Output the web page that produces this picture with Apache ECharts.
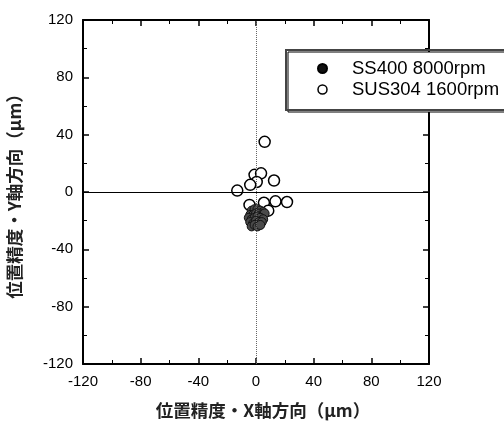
<!DOCTYPE html>
<html>
<head>
<meta charset="utf-8">
<script src="https://cdn.jsdelivr.net/npm/echarts@6/dist/echarts.min.js"></script>
<style>
  html, body { margin: 0; padding: 0; background: #fff; }
  #chart { width: 504px; height: 422px; }
</style>
</head>
<body>
<div id="chart"></div>
<script>
  // 位置精度データ (μm) [X, Y]
  const ss400 = [
    [-3, -13], [-1, -12], [1, -12], [3, -13], [5, -14],
    [-4, -16], [-2, -16], [0, -15], [2, -15], [4, -16], [6, -15],
    [-5, -18], [-3, -19], [-1, -18], [1, -17], [3, -18], [5, -19],
    [-4, -21], [-2, -22], [0, -20], [2, -21], [4, -21],
    [-3, -24], [-1, -23], [1, -24], [3, -23]
  ]
  const sus304 = [
    [6, 35], [-1, 12], [3.5, 13], [0.5, 7], [-4, 5], [12.5, 8],
    [-13, 1], [-4.5, -9], [5.5, -7.5], [13.5, -6.5], [21.5, -7], [8.5, -13]
  ]
  const axisTicks = [-120, -80, -40, 0, 40, 80, 120]
  const seriesNames = ['SS400 8000rpm', 'SUS304 1600rpm']

  const labelFont = 'Liberation Sans, Arial, sans-serif'
  const cjkFont = 'Noto Sans CJK JP, sans-serif'

  function axis(pos, name, showLabel) {
    return {
      type: 'value',
      position: pos,
      min: axisTicks[0],
      max: axisTicks[axisTicks.length - 1],
      interval: 40,
      name: name,
      nameLocation: 'middle',
      nameGap: pos === 'bottom' ? 38 : 60,
      nameTextStyle: {
        fontFamily: cjkFont, fontSize: 17.5, fontWeight: 'bold', color: '#222',
        padding: pos === 'bottom' ? [0, 0, 0, 14] : 0
      },
      axisLine: { show: true, onZero: false, lineStyle: { color: '#000', width: 2 } },
      axisTick: { show: true, inside: true, length: 6, lineStyle: { color: '#000', width: 1.5 } },
      minorTick: { show: true, splitNumber: 2, length: 4, lineStyle: { color: '#000', width: 1 } },
      axisLabel: {
        show: showLabel, margin: 10, fontSize: 15, color: '#000', fontFamily: labelFont
      },
      splitLine: { show: false }
    }
  }

  const chart = echarts.init(document.getElementById('chart'))
  chart.setOption({
    animation: false,
    backgroundColor: '#fff',
    grid: { left: 83, right: 75, top: 20, bottom: 58, outerBoundsMode: 'none' },
    xAxis: [
      axis('bottom', '位置精度・X軸方向（μm）', true),
      axis('top', '', false)
    ],
    yAxis: [
      axis('left', '位置精度・Y軸方向（μm）', true),
      axis('right', '', false)
    ],
    legend: {
      orient: 'vertical',
      left: 288,
      top: 52,
      padding: [7, 40, 13, 29],
      itemWidth: 9,
      itemHeight: 9,
      itemGap: 2,
      backgroundColor: '#fff',
      borderColor: '#000',
      borderWidth: 1,
      textStyle: {
        fontFamily: labelFont, fontSize: 18.5, lineHeight: 18, color: '#000', padding: [0, 0, 0, 20]
      },
      data: [
        { name: seriesNames[0], icon: 'circle', itemStyle: { color: '#111', borderColor: '#000' } },
        { name: seriesNames[1], icon: 'circle', itemStyle: { color: '#fff', borderColor: '#000', borderWidth: 1.5 } }
      ]
    },
    graphic: [{
      type: 'rect',
      z: 100,
      shape: { x: 286, y: 50, width: 240, height: 60 },
      style: { fill: 'none', stroke: '#444', lineWidth: 2 }
    }],
    series: [
      {
        name: seriesNames[1],
        type: 'scatter',
        symbolSize: 11,
        itemStyle: { color: '#fff', borderColor: '#000', borderWidth: 1.5, opacity: 1 },
        data: sus304,
        markLine: {
          silent: true,
          symbol: 'none',
          label: { show: false },
          data: [
            { yAxis: 0, lineStyle: { color: '#000', width: 1, type: 'solid' } },
            { xAxis: 0, lineStyle: { color: '#666', width: 1, type: 'dotted' } }
          ]
        },
        z: 3
      },
      {
        name: seriesNames[0],
        type: 'scatter',
        symbolSize: 9,
        itemStyle: { color: '#4a4a4a', borderColor: '#111', borderWidth: 1, opacity: 1 },
        data: ss400,
        z: 4
      }
    ]
  })
</script>
</body>
</html>
